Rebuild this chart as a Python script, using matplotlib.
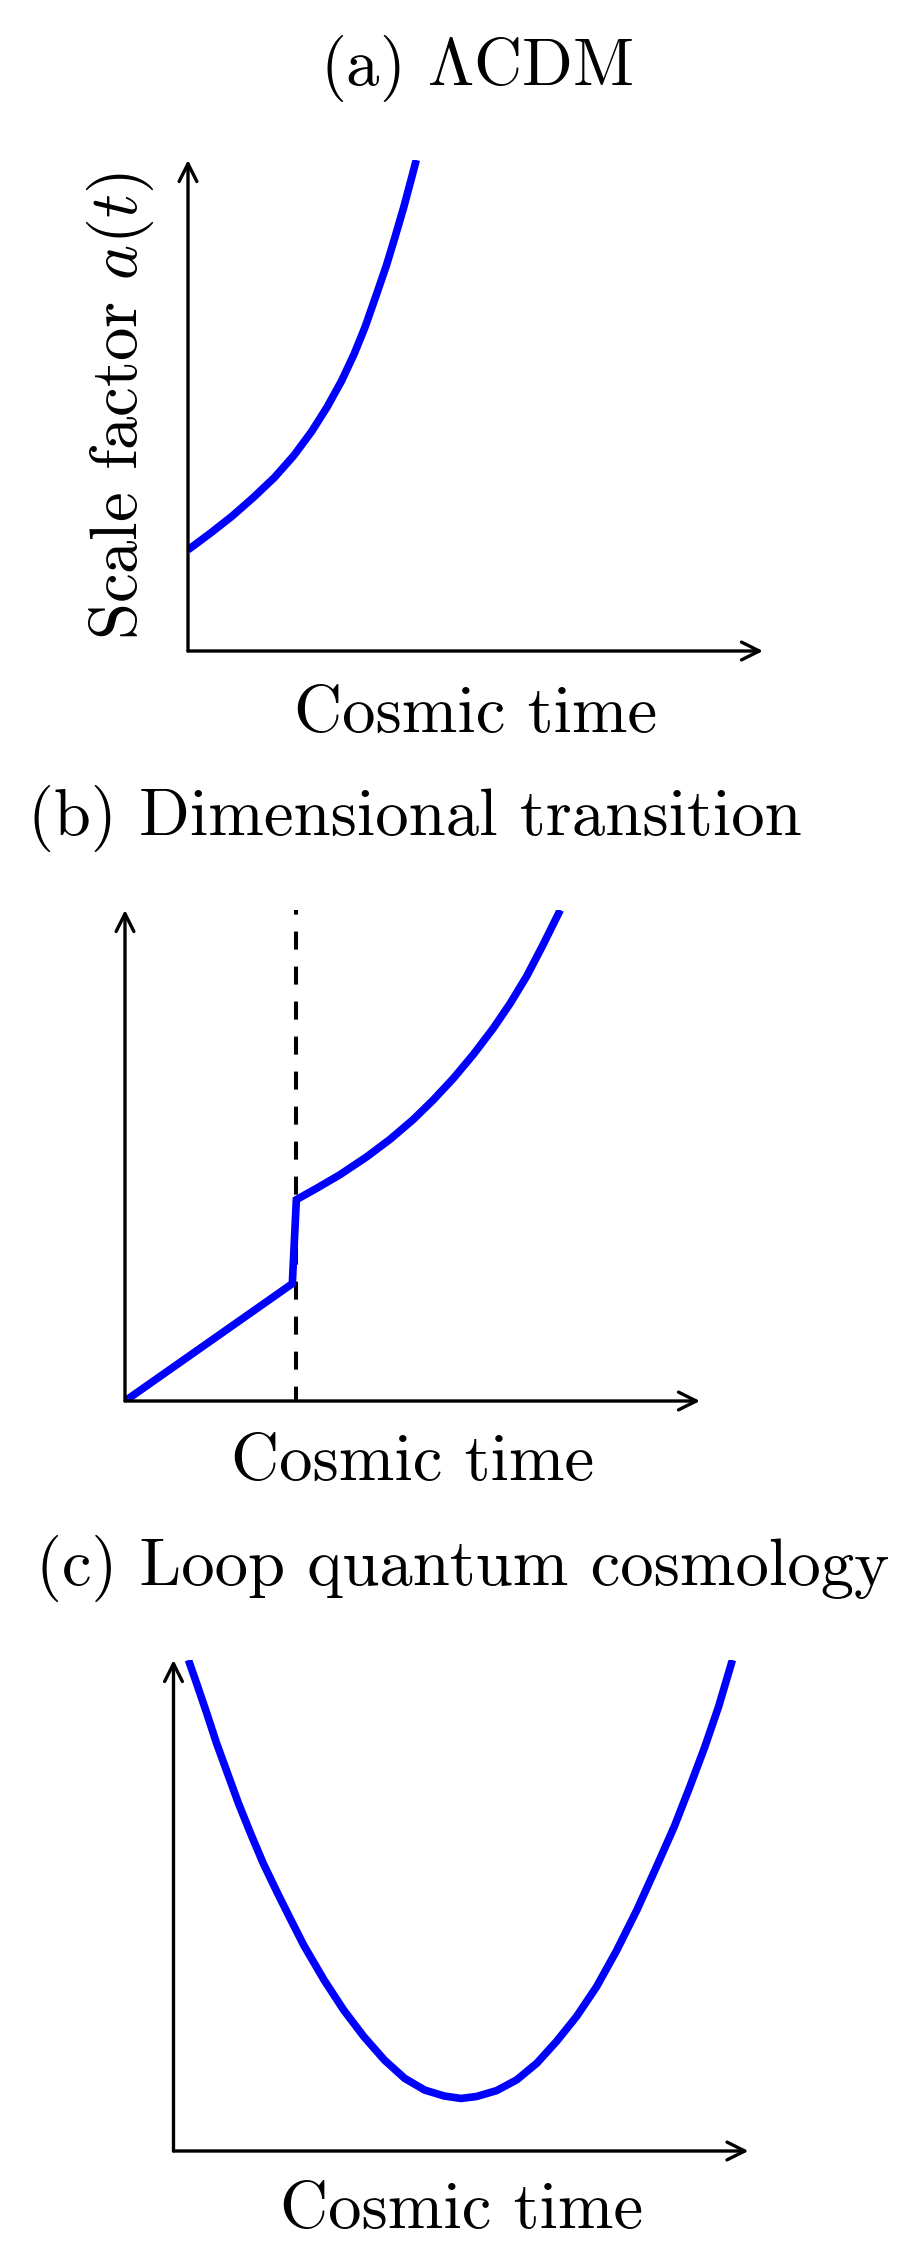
import matplotlib
matplotlib.use("Agg")
import matplotlib.pyplot as plt

plt.rcParams["font.family"] = "serif"
plt.rcParams["font.serif"] = ["cmr10"]
plt.rcParams["mathtext.fontset"] = "cm"
plt.rcParams["axes.unicode_minus"] = False

# values, in units of the axis length (arrow tip = 1)
t_lcdm = [0.0, 0.039, 0.076, 0.113, 0.150, 0.184, 0.215, 0.242, 0.267, 0.289, 0.308,
          0.328, 0.345, 0.360, 0.375, 0.388, 0.397]
a_lcdm = [0.206, 0.240, 0.274, 0.312, 0.353, 0.398, 0.447, 0.497, 0.550, 0.605, 0.660,
          0.727, 0.785, 0.843, 0.903, 0.960, 1.0]

t_dim = [0.0, 0.291, 0.298, 0.333, 0.374, 0.420, 0.461, 0.501, 0.536, 0.571, 0.606,
         0.641, 0.670, 0.699, 0.727, 0.757]
a_dim = [0.0, 0.239, 0.410, 0.433, 0.461, 0.497, 0.533, 0.573, 0.613, 0.657, 0.706,
         0.760, 0.810, 0.866, 0.929, 1.0]
t_transition = 0.298

t_lqc = [0.026, 0.040, 0.058, 0.075, 0.094, 0.113, 0.134, 0.156, 0.181, 0.204, 0.227,
         0.262, 0.296, 0.331, 0.367, 0.402, 0.437, 0.471, 0.500,
         0.527, 0.562, 0.597, 0.632, 0.666, 0.701, 0.736, 0.771, 0.806, 0.840, 0.871,
         0.898, 0.924, 0.948, 0.972]
a_lqc = [1.0, 0.953, 0.891, 0.830, 0.769, 0.708, 0.647, 0.586, 0.525, 0.471, 0.418,
         0.348, 0.287, 0.233, 0.185, 0.148, 0.124, 0.112, 0.107,
         0.111, 0.123, 0.145, 0.179, 0.223, 0.274, 0.335, 0.409, 0.491, 0.579, 0.661,
         0.742, 0.823, 0.905, 1.0]

titles = [r"(a) $\Lambda$CDM", "(b) Dimensional transition", "(c) Loop quantum cosmology"]
xlabel = "Cosmic time"
ylabel = r"Scale factor $a(t)$"

W, H = 920, 2262
FS = 48
BLUE = "#0000ff"


def px_axes(fig, x0, ybot):
    # axes box given in pixels (left, bottom edge measured from the top)
    return fig.add_axes([x0 / W, 1 - ybot / H, 575 / W, 491 / H])


def draw_frame(ax):
    ax.set_xlim(0, 1)
    ax.set_ylim(0, 1)
    ax.axis("off")
    arrow = dict(arrowstyle="->", lw=2.4, color="k", mutation_scale=32, shrinkA=0, shrinkB=0)
    ax.annotate("", xy=(1, 0), xytext=(0, 0), xycoords="axes fraction", arrowprops=arrow)
    ax.annotate("", xy=(0, 1), xytext=(0, 0), xycoords="axes fraction", arrowprops=arrow)


def ftext(fig, x, y, s, **kw):
    fig.text(x / W, 1 - y / H, s, fontsize=FS, ha="center", va="baseline", **kw)


fig = plt.figure(figsize=(W / 100, H / 100), dpi=100)

# (a)
ax = px_axes(fig, 188, 651)
draw_frame(ax)
ax.plot(t_lcdm, a_lcdm, color=BLUE, lw=5.5, solid_capstyle="butt", solid_joinstyle="round")
ftext(fig, 477, 85, titles[0])
ftext(fig, 476, 732, xlabel)
fig.text(137 / W, 1 - 406 / H, ylabel, fontsize=FS, rotation=90,
         rotation_mode="anchor", ha="center", va="baseline")

# (b)
ax = px_axes(fig, 125, 1401)
draw_frame(ax)
ax.plot([t_transition, t_transition], [0, 1], color="k", lw=2.9,
        linestyle=(0.9, (4.47, 4.22)))
ax.plot(t_dim, a_dim, color=BLUE, lw=5.5, solid_capstyle="butt", solid_joinstyle="miter")
ftext(fig, 415, 835, titles[1])
ftext(fig, 413, 1480, xlabel)

# (c)
ax = px_axes(fig, 173.5, 2151)
draw_frame(ax)
ax.plot(t_lqc, a_lqc, color=BLUE, lw=5.5, solid_capstyle="butt", solid_joinstyle="round")
ftext(fig, 463, 1585, titles[2])
ftext(fig, 462, 2228, xlabel)

fig.savefig("out.png", dpi=100)
